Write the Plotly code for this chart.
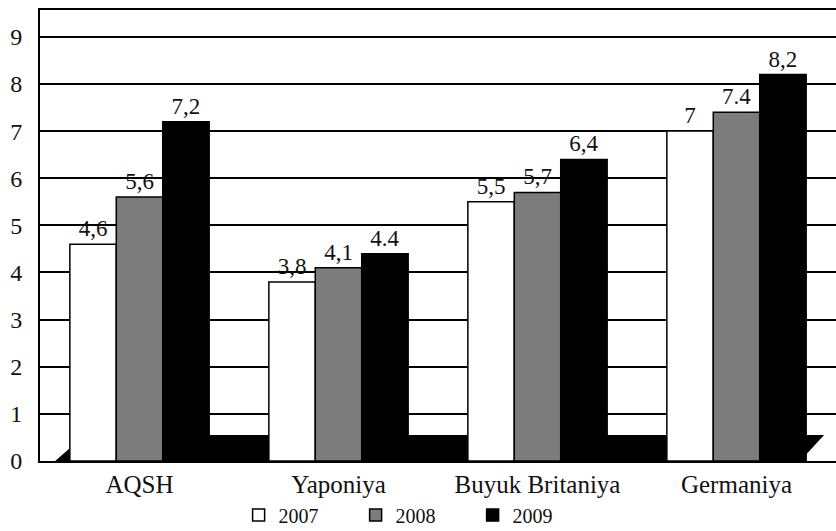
import plotly.graph_objects as go

categories = ["AQSH", "Yaponiya", "Buyuk Britaniya", "Germaniya"]
years = ["2007", "2008", "2009"]
values_2007 = [4.6, 3.8, 5.5, 7.0]
values_2008 = [5.6, 4.1, 5.7, 7.4]
values_2009 = [7.2, 4.4, 6.4, 8.2]
labels_2007 = ["4,6", "3,8", "5,5", "7"]
labels_2008 = ["5,6", "4,1", "5,7", "7.4"]
labels_2009 = ["7,2", "4.4", "6,4", "8,2"]
y_ticks = [0, 1, 2, 3, 4, 5, 6, 7, 8, 9]

series = [
    (years[0], values_2007, labels_2007, "#ffffff"),
    (years[1], values_2008, labels_2008, "#7c7c7c"),
    (years[2], values_2009, labels_2009, "#000000"),
]

FONT = "Liberation Serif, Times New Roman, serif"

fig = go.Figure()
for name, vals, labs, color in series:
    fig.add_trace(go.Bar(
        name=name, x=categories, y=vals, text=labs,
        textposition="outside", cliponaxis=False,
        textfont=dict(family=FONT, size=23, color="#111111"),
        marker=dict(color=color, line=dict(color="#000000", width=1.5)),
    ))

fig.update_layout(
    width=836, height=531,
    margin=dict(l=40, r=0, t=10, b=70, autoexpand=False),
    paper_bgcolor="#ffffff", plot_bgcolor="#ffffff",
    barmode="group", bargap=0.3, bargroupgap=0,
    font=dict(family=FONT, size=22, color="#111111"),
    legend=dict(orientation="h", x=0.47, xanchor="center", y=-0.12, yanchor="middle",
                bgcolor="rgba(0,0,0,0)",
                font=dict(family=FONT, size=20), itemwidth=30, entrywidth=72,
                traceorder="normal"),
    shapes=[dict(
        type="path", xref="paper", yref="paper", layer="between",
        path="M 0.019 0 L 0.0565 0.0576 L 0.985 0.0576 L 0.955 0 Z",
        fillcolor="#000000", line=dict(width=0),
    )],
)
fig.update_yaxes(
    range=[0, 9.57], tickvals=y_ticks, showgrid=True, gridcolor="#000000", gridwidth=2,
    showline=True, linecolor="#000000", linewidth=2, mirror=True, zeroline=False,
    ticks="", tickfont=dict(family=FONT, size=24), ticklabelstandoff=11, automargin=False,
)
fig.update_xaxes(
    showline=True, linecolor="#000000", linewidth=2, mirror=True,
    ticks="", tickfont=dict(family=FONT, size=25), ticklabelstandoff=0, automargin=False,
)

fig.write_html("out.html", config={"displayModeBar": False},
               post_script="document.body.style.margin='0';document.body.style.padding='0';")
